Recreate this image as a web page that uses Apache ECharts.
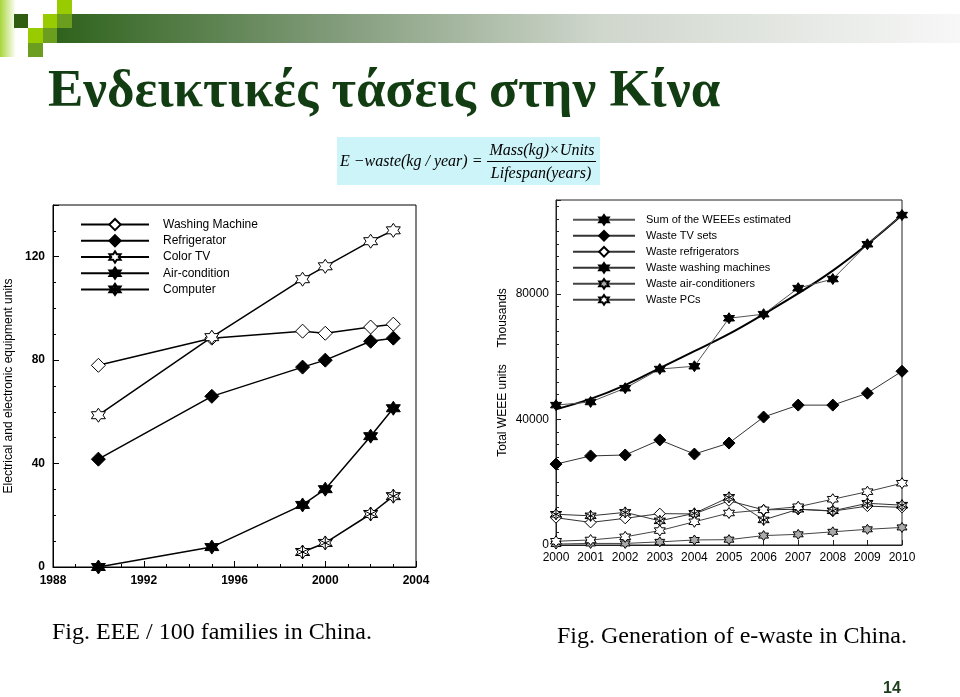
<!DOCTYPE html>
<html><head><meta charset="utf-8">
<script src="https://cdn.jsdelivr.net/npm/echarts@6/dist/echarts.min.js"></script>
<style>html,body{margin:0;padding:0;background:#fff}#c{width:960px;height:697px}</style>
</head><body><div id="c"></div>
<script>
// ---------- Left chart: EEE / 100 families ----------
const leftYears = [1990, 1995, 1999, 2000, 2002, 2003];
const computerYears = [1999, 2000, 2002, 2003];
const washingMachine = [78, 88.5, 91.2, 90.4, 92.8, 93.9];
const refrigerator = [41.7, 66, 77.3, 80, 87.3, 88.5];
const colorTV = [58.7, 88.9, 111.3, 116.3, 126, 130.2];
const airCondition = [0, 7.7, 24, 30.1, 50.6, 61.4];
const computer = [5.8, 9.3, 20.5, 27.4];
const leftNames = ['Washing Machine', 'Refrigerator', 'Color TV', 'Air-condition', 'Computer'];
const leftYTicks = [0, 40, 80, 120];
const leftXTicks = [1988, 1992, 1996, 2000, 2004];

// ---------- Right chart: Generation of e-waste ----------
const rightYears = [2000, 2001, 2002, 2003, 2004, 2005, 2006, 2007, 2008, 2009, 2010];
const sumWEEE = [44600, 45600, 50000, 56100, 57000, 72300, 73600, 81900, 84800, 95900, 105200];
const sumTrend = [43300, 46600, 51000, 56400, 61800, 67300, 73600, 80200, 87500, 95900, 105200];
const wasteTV = [25800, 28400, 28700, 33500, 29000, 32500, 40800, 44600, 44600, 48400, 55400];
const wasteRefrigerators = [8700, 7200, 8500, 10000, 9900, 14100, 11200, 11400, 10800, 12400, 12000];
const wasteWashing = [9800, 9300, 10400, 7700, 10100, 15200, 8000, 11400, 10900, 13300, 12700];
const wasteAC = [300, 500, 500, 1000, 1600, 1700, 3000, 3400, 4200, 5000, 5600];
const wastePCs = [1200, 1600, 2600, 4600, 7400, 10200, 11200, 12200, 14600, 17000, 19700];
const rightNames = ['Sum of the WEEEs estimated', 'Waste TV sets', 'Waste refrigerators',
  'Waste washing machines', 'Waste air-conditioners', 'Waste PCs'];
const rightYTicks = [0, 40000, 80000];

const HEX = 'M0 -10 L2.887 -5 L8.66 -5 L5.77 0 L8.66 5 L2.887 5 L0 10 L-2.887 5 L-8.66 5 L-5.77 0 L-8.66 -5 L-2.887 -5 Z';
const HEX_SYM = 'path://' + HEX;
const HEX_AST = 'path://' + HEX + ' M0 -10 L0 10 M-8.66 -5 L8.66 5 M-8.66 5 L8.66 -5';

function pairs(xs, ys) { return xs.map((x, i) => [x, ys[i]]); }

function lser(name, xs, ys, symbol, fill, size, idx, lw, lc) {
  return {
    name, type: 'line', xAxisIndex: idx, yAxisIndex: idx,
    data: pairs(xs, ys), symbol, symbolSize: size, showSymbol: true,
    lineStyle: { color: lc || '#000', width: lw || 1.5 },
    itemStyle: { color: fill, borderColor: '#000', borderWidth: 1 },
    emphasis: { disabled: true }, animation: false, z: 3
  };
}

const labelFont = { fontFamily: 'Liberation Sans', color: '#000' };

const chart = echarts.init(document.getElementById('c'), null, { renderer: 'canvas' });
chart.setOption({
  backgroundColor: '#fff',
  animation: false,
  grid: [
    { left: 53, top: 205, width: 363, height: 362, show: true, borderColor: '#000', borderWidth: 1, backgroundColor: 'transparent' },
    { left: 556, top: 200, width: 346, height: 345, show: true, borderColor: '#222', borderWidth: 1, backgroundColor: 'transparent' }
  ],
  xAxis: [
    { type: 'value', gridIndex: 0, min: leftXTicks[0], max: leftXTicks[leftXTicks.length - 1], interval: 4,
      axisLine: { lineStyle: { color: '#000' } }, splitLine: { show: false },
      axisTick: { inside: true, length: 6, lineStyle: { color: '#000' } },
      minorTick: { show: true, splitNumber: 4, length: 3, lineStyle: { color: '#000' } },
      axisLabel: { ...labelFont, fontSize: 12, fontWeight: 'bold', margin: 8, formatter: v => String(v) } },
    { type: 'value', gridIndex: 1, min: rightYears[0], max: rightYears[rightYears.length - 1], interval: 1,
      axisLine: { lineStyle: { color: '#222' } }, splitLine: { show: false },
      axisTick: { inside: true, length: 5, lineStyle: { color: '#222' } },
      axisLabel: { ...labelFont, fontSize: 12, margin: 7, formatter: v => String(v) } }
  ],
  yAxis: [
    { type: 'value', gridIndex: 0, min: 0, max: 140, interval: 40,
      name: 'Electrical and electronic equipment units', nameLocation: 'middle', nameGap: 38,
      nameTextStyle: { ...labelFont, fontSize: 12 },
      axisLine: { show: true, lineStyle: { color: '#000' } }, splitLine: { show: false },
      axisTick: { inside: true, length: 6, lineStyle: { color: '#000' } },
      minorTick: { show: true, splitNumber: 4, length: 3, lineStyle: { color: '#000' } },
      axisLabel: { ...labelFont, fontSize: 12, fontWeight: 'bold', margin: 8, showMaxLabel: false,
        formatter: v => leftYTicks.includes(v) ? String(v) : '' } },
    { type: 'value', gridIndex: 1, min: 0, max: 110000, interval: 40000,
      name: 'Total WEEE units     Thousands', nameLocation: 'middle', nameGap: 47,
      nameTextStyle: { ...labelFont, fontSize: 12 },
      axisLine: { show: true, lineStyle: { color: '#222' } }, splitLine: { show: false },
      axisTick: { inside: true, length: 5, lineStyle: { color: '#222' } },
      minorTick: { show: true, splitNumber: 10, length: 3, lineStyle: { color: '#222' } },
      axisLabel: { ...labelFont, fontSize: 12, margin: 7, showMaxLabel: false,
        formatter: v => rightYTicks.includes(v) ? String(v) : '' } }
  ],
  legend: [
    { data: leftNames, orient: 'vertical', left: 80, top: 218, padding: 0, itemWidth: 68, itemHeight: 14, itemGap: 3,
      textStyle: { ...labelFont, fontSize: 12, padding: [0, 0, 0, 9] }, selectedMode: false },
    { data: rightNames, orient: 'vertical', left: 572, top: 214, padding: 0, itemWidth: 62, itemHeight: 12, itemGap: 4.4,
      textStyle: { ...labelFont, fontSize: 11, padding: [0, 0, 0, 6] }, selectedMode: false }
  ],
  series: [
    lser('Washing Machine', leftYears, washingMachine, 'diamond', '#fff', 14, 0),
    lser('Refrigerator', leftYears, refrigerator, 'diamond', '#000', 14, 0),
    lser('Color TV', leftYears, colorTV, HEX_SYM, '#fff', 14, 0),
    lser('Air-condition', leftYears, airCondition, HEX_SYM, '#000', 14, 0),
    lser('Computer', computerYears, computer, HEX_AST, '#fff', 14, 0),
    { name: 'trend', type: 'line', xAxisIndex: 1, yAxisIndex: 1, data: pairs(rightYears, sumTrend),
      showSymbol: false, symbol: 'none', smooth: 0.4, lineStyle: { color: '#000', width: 2 }, z: 2, emphasis: { disabled: true } },
    lser('Sum of the WEEEs estimated', rightYears, sumWEEE, HEX_SYM, '#000', 11, 1, 1, '#555'),
    lser('Waste TV sets', rightYears, wasteTV, 'diamond', '#000', 12, 1, 1, '#333'),
    lser('Waste refrigerators', rightYears, wasteRefrigerators, 'diamond', '#fff', 11, 1, 1, '#333'),
    lser('Waste washing machines', rightYears, wasteWashing, HEX_AST, '#fff', 11, 1, 1, '#333'),
    lser('Waste air-conditioners', rightYears, wasteAC, HEX_SYM, '#aaa', 10, 1, 1, '#444'),
    lser('Waste PCs', rightYears, wastePCs, HEX_SYM, '#fff', 11, 1, 1, '#444')
  ],
  graphic: [
    // header decoration
    { type: 'rect', shape: { x: 57, y: 14, width: 903, height: 29 }, silent: true,
      style: { fill: new echarts.graphic.LinearGradient(0, 0, 1, 0, [
        { offset: 0, color: '#2f631c' }, { offset: 0.3, color: '#7f9a78' },
        { offset: 0.6, color: '#cfd6cc' }, { offset: 1, color: '#f7f7f7' }]) } },
    { type: 'rect', shape: { x: 0, y: 0, width: 16, height: 57 }, silent: true,
      style: { fill: new echarts.graphic.LinearGradient(0, 0, 1, 0, [
        { offset: 0, color: '#a8d63a' }, { offset: 1, color: '#ffffff' }]) } },
    { type: 'rect', shape: { x: 14, y: 14, width: 14, height: 14 }, style: { fill: '#2f5e10' }, silent: true },
    { type: 'rect', shape: { x: 43, y: 14, width: 14, height: 14 }, style: { fill: '#99cc00' }, silent: true },
    { type: 'rect', shape: { x: 57, y: 0, width: 15, height: 14 }, style: { fill: '#99cc00' }, silent: true },
    { type: 'rect', shape: { x: 57, y: 14, width: 15, height: 14 }, style: { fill: '#6b9e1f' }, silent: true },
    { type: 'rect', shape: { x: 28, y: 28, width: 15, height: 15 }, style: { fill: '#99cc00' }, silent: true },
    { type: 'rect', shape: { x: 43, y: 28, width: 14, height: 15 }, style: { fill: '#6b9e1f' }, silent: true },
    { type: 'rect', shape: { x: 28, y: 43, width: 15, height: 14 }, style: { fill: '#6b9e1f' }, silent: true },
    // title
    { type: 'text', x: 48, y: 92, silent: true,
      style: { text: 'Ενδεικτικές τάσεις στην Κίνα', fill: '#123d12', font: 'bold 53px "Liberation Serif"', verticalAlign: 'middle' } },
    // formula box
    { type: 'rect', shape: { x: 337, y: 137, width: 263, height: 48 }, style: { fill: '#cdf4f8' }, silent: true },
    { type: 'text', x: 340, y: 162, silent: true,
      style: { text: 'E \u2212waste(kg / year) =', fill: '#000', font: 'italic 16px "Liberation Serif"', verticalAlign: 'middle' } },
    { type: 'text', x: 542, y: 151, silent: true,
      style: { text: 'Mass(kg)\u00d7Units', fill: '#000', font: 'italic 16px "Liberation Serif"', verticalAlign: 'middle', align: 'center' } },
    { type: 'line', shape: { x1: 487, y1: 161.5, x2: 596, y2: 161.5 }, style: { stroke: '#000', lineWidth: 1 }, silent: true },
    { type: 'text', x: 541, y: 174, silent: true,
      style: { text: 'Lifespan(years)', fill: '#000', font: 'italic 16px "Liberation Serif"', verticalAlign: 'middle', align: 'center' } },
    // captions
    { type: 'text', x: 52, y: 633, silent: true,
      style: { text: 'Fig. EEE / 100 families in China.', fill: '#000', font: '24px "Liberation Serif"', verticalAlign: 'middle' } },
    { type: 'text', x: 557, y: 637, silent: true,
      style: { text: 'Fig. Generation of e-waste in China.', fill: '#000', font: '24px "Liberation Serif"', verticalAlign: 'middle' } },
    { type: 'text', x: 892, y: 689, silent: true,
      style: { text: '14', fill: '#1d3d1d', font: 'bold 16px "Liberation Sans"', verticalAlign: 'middle', align: 'center' } }
  ]
});
</script>
</body></html>
